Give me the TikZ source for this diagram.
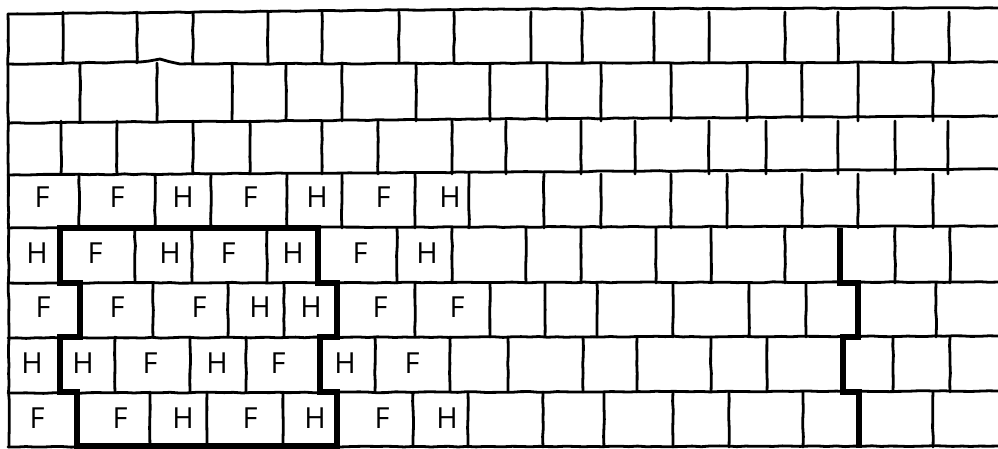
\documentclass[tikz,border=0pt]{standalone}
\usepackage{fontspec}
\setmainfont{Open Sans}
\usetikzlibrary{decorations.pathmorphing}

\begin{document}
\begin{tikzpicture}[x=1pt,y=-1pt,
 joint/.style={line width=2.8pt,line cap=round,line join=round,decorate,decoration={random steps,segment length=9pt,amplitude=0.45pt}},
 bond/.style={line width=5.5pt,line join=miter},
 lab/.style={font=\fontsize{29}{30}\selectfont,inner sep=0pt}]
\pgfmathsetseed{11}
\useasboundingbox (0,0) rectangle (998,448);
\fill[white] (0,0) rectangle (998,448);
% bed joints (courses)
\draw[joint] (8,14)--(500,9)--(998,8);
\draw[joint] (8,64)--(140,62)--(160,59)--(180,64)--(998,62);
\draw[joint] (8,123)--(498,119)--(998,116);
\draw[joint] (8,175)--(498,172)--(998,169);
\draw[joint] (8,228)--(998,226);
\draw[joint] (8,283)--(998,282);
\draw[joint] (8,338)--(998,336);
\draw[joint] (8,393)--(998,391);
\draw[joint] (8,447)--(998,446);
\draw[joint] (8,14)--(9,447);
% head joints, course by course
\foreach \yt/\yb/\xs in {
 12/63/{63,137,193,268,322,399,454,531,582,654,709,785,838,893,949},
 63/121/{80,157,232,286,342,416,490,547,601,671,747,802,858,933},
 121/174/{61,117,193,250,322,378,452,506,581,635,709,766,838,895,948},
 174/228/{79,155,211,287,342,415,469,544,601,671,727,802,858,933},
 228/283/{135,192,267,397,452,526,581,656,711,785,895,950},
 283/337/{153,228,284,415,490,545,597,673,749,806,936},
 337/392/{115,190,246,375,450,508,583,637,711,767,893,950},
 392/447/{150,207,283,413,468,543,604,673,729,803,933}}
 \foreach \x in \xs
 \draw[joint] (\x,\yt)--(\x,\yb);
% bricks marked F and H
\foreach \y/\row in {
 197/{42/F,117/F,183/H,250/F,317/H,383/F,450/H},
 253/{37/H,95/F,170/H,228/F,293/H,360/F,427/H},
 307/{43/F,117/F,199/F,260/H,311/H,380/F,457/F},
 363/{32/H,83/H,150/F,217/H,278/F,345/H,412/F},
 418/{37/F,120/F,183/H,250/F,315/H,382/F,447/H}}
 \foreach \x/\t in \row
 \node[lab] (b\y-\x) at (\x,\y) {\t};
% heavy outlines
\draw[bond] (318,228)--(60,228)--(60,283)--(80,283)--(80,337)--(60,337)--(60,392)
 --(77,392)--(77,446)--(337,446)--(337,392)--(320,392)--(320,337)--(337,337)
 --(337,283)--(318,283)--cycle;
\draw[bond] (840,228)--(840,283)--(858,283)--(858,337)--(843,337)--(843,392)
 --(859,392)--(859,448);
\end{tikzpicture}
\end{document}
